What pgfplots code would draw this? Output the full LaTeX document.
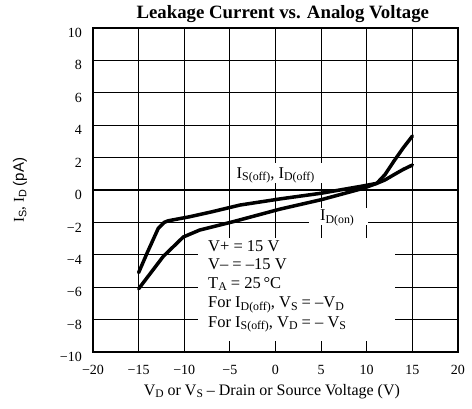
\documentclass[border=0pt]{standalone}
\usepackage{pgfplots}
\pgfplotsset{compat=1.18}
\usepackage{fontspec}
\setmainfont{Liberation Serif}
\setsansfont{Liberation Sans}
\newcommand\sub[1]{\raisebox{-0.35ex}{\scalebox{0.72}{#1}}}
\begin{document}
\begin{tikzpicture}
\path[use as bounding box] (0,0) rectangle (472pt,409pt);
\begin{axis}[
  at={(93pt,57pt)}, anchor=south west,
  scale only axis, width=365pt, height=324pt,
  xmin=-20, xmax=20, ymin=-10, ymax=10,
  xtick={-20,-15,...,20}, ytick={-10,-8,...,10},
  xticklabels={−20,−15,−10,−5,0,5,10,15,20},
  yticklabels={−10,−8,−6,−4,−2,0,2,4,6,8,10},
  grid=major, major grid style={black, line width=1.1pt},
  axis line style={line width=1.4pt},
  major tick length=0pt,
  tick label style={font=\fontsize{14}{14}\selectfont},
  xticklabel style={yshift=-10pt},
  yticklabel style={xshift=-7.6pt, yshift=-5pt},
  title={Leakage Current vs. Analog Voltage},
  title style={at={(axis description cs:0.52,1.012)}, anchor=base, yshift=0pt, font=\bfseries\fontsize{18.8}{18.8}\selectfont},
  xlabel={V\sub{D} or V\sub{S} – Drain or Source Voltage (V)},
  xlabel style={at={(axis description cs:0.49,-0.133)}, anchor=base, font=\fontsize{16}{16}\selectfont},
  ylabel={I\sub{\sffamily S}, I\sub{\sffamily D} {\sffamily (pA)}},
  ylabel style={at={(axis description cs:-0.2,0.5)}, anchor=center, font=\fontsize{15}{15}\selectfont},
]
% white backgrounds that interrupt the grid
\fill[white] (axis cs:-8.5,-2.96) rectangle (axis cs:13.05,-9.3);
\fill[white] (axis cs:3.66,-1.1) rectangle (axis cs:10.1,-2.16);
\fill[white] (axis cs:-4.4,0.43) rectangle (axis cs:5.3,1.67);

\addplot[black, line width=3.5pt, line join=round, line cap=round] coordinates {
 (-15,-5.1) (-14,-3.8) (-12.85,-2.37) (-12.2,-2.0) (-11.75,-1.9) (-9.4,-1.65)
 (-7,-1.35) (-3.9,-0.93) (0.5,-0.55) (5,-0.2) (9.6,0.25) (11.1,0.41)
 (12,0.62) (13,0.95) (14,1.27) (15,1.54)};
\addplot[black, line width=3.5pt, line join=round, line cap=round] coordinates {
 (-15,-6.1) (-12.3,-4.1) (-10.1,-2.9) (-8.3,-2.47) (-4.6,-1.95) (0.5,-1.18)
 (5,-0.6) (9.6,0.1) (11.1,0.41) (12,0.95) (13,1.8) (14,2.6) (15,3.33)};

\node[anchor=base west, inner sep=0pt, font=\fontsize{16.5}{16.5}\selectfont] at (axis cs:-4.27,0.72) {I\sub{S(off)}, I\sub{D(off)}};
\node[anchor=base west, inner sep=0pt, font=\fontsize{16.5}{16.5}\selectfont] at (axis cs:4.86,-1.91) {I\sub{D(on)}};

\begin{scope}[every node/.style={anchor=base west, inner sep=0pt, font=\fontsize{16.5}{16.5}\selectfont}]
\node at (axis cs:-7.4,-3.81) {V+ = 15 V};
\node at (axis cs:-7.4,-4.88) {V– = –15 V};
\node at (axis cs:-7.4,-6.05) {T\sub{A} = 25\,°C};
\node at (axis cs:-7.4,-7.28) {For I\sub{D(off)}, V\sub{S} = –V\sub{D}};
\node at (axis cs:-7.4,-8.46) {For I\sub{S(off)}, V\sub{D} = – V\sub{S}};
\end{scope}
\end{axis}
\end{tikzpicture}
\end{document}
